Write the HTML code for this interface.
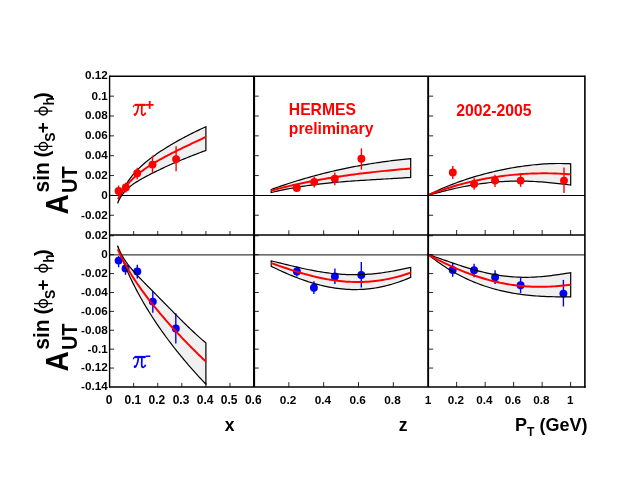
<!DOCTYPE html>
<html><head><meta charset="utf-8"><title>HERMES</title>
<style>
html,body{margin:0;padding:0;background:#fff;}
body{width:623px;height:481px;overflow:hidden;font-family:"Liberation Sans",sans-serif;}
svg{display:block;will-change:transform;}
text{font-family:"Liberation Sans",sans-serif;font-weight:bold;fill:#000;}
.tk{font-size:11.7px;}
.ser{font-family:"Liberation Serif",serif;font-weight:normal;}
</style></head><body>
<svg width="623" height="481" viewBox="0 0 623 481">
<rect x="0" y="0" width="623" height="481" fill="#fff"/>

<path d="M117.70,203.24 L118.82,199.90 L119.93,196.92 L121.05,194.21 L122.17,191.74 L123.28,189.46 L124.40,187.35 L125.52,185.38 L126.63,183.54 L127.75,181.80 L128.86,180.17 L129.98,178.61 L131.10,177.14 L132.21,175.73 L133.33,174.38 L134.45,173.09 L135.56,171.85 L136.68,170.65 L137.80,169.49 L138.91,168.38 L140.03,167.29 L141.15,166.24 L142.26,165.22 L143.38,164.23 L144.49,163.26 L145.61,162.32 L146.73,161.39 L147.84,160.49 L148.96,159.61 L150.08,158.74 L151.19,157.89 L152.31,157.06 L153.43,156.24 L154.54,155.44 L155.66,154.64 L156.78,153.86 L157.89,153.10 L159.01,152.34 L160.13,151.59 L161.24,150.86 L162.36,150.13 L163.47,149.41 L164.59,148.70 L165.71,148.00 L166.82,147.31 L167.94,146.63 L169.06,145.95 L170.17,145.28 L171.29,144.61 L172.41,143.96 L173.52,143.31 L174.64,142.66 L175.76,142.02 L176.87,141.39 L177.99,140.76 L179.11,140.14 L180.22,139.53 L181.34,138.92 L182.45,138.31 L183.57,137.71 L184.69,137.12 L185.80,136.53 L186.92,135.95 L188.04,135.37 L189.15,134.79 L190.27,134.22 L191.39,133.66 L192.50,133.10 L193.62,132.54 L194.74,131.99 L195.85,131.45 L196.97,130.90 L198.08,130.37 L199.20,129.84 L200.32,129.31 L201.43,128.78 L202.55,128.27 L203.67,127.75 L204.78,127.24 L205.90,126.74 L205.90,150.39 L204.78,150.82 L203.67,151.25 L202.55,151.68 L201.43,152.11 L200.32,152.54 L199.20,152.97 L198.08,153.40 L196.97,153.82 L195.85,154.25 L194.74,154.68 L193.62,155.11 L192.50,155.55 L191.39,155.98 L190.27,156.42 L189.15,156.86 L188.04,157.30 L186.92,157.74 L185.80,158.19 L184.69,158.64 L183.57,159.09 L182.45,159.54 L181.34,160.00 L180.22,160.46 L179.11,160.93 L177.99,161.40 L176.87,161.87 L175.76,162.35 L174.64,162.83 L173.52,163.31 L172.41,163.80 L171.29,164.29 L170.17,164.79 L169.06,165.29 L167.94,165.79 L166.82,166.30 L165.71,166.81 L164.59,167.33 L163.47,167.85 L162.36,168.37 L161.24,168.90 L160.13,169.43 L159.01,169.97 L157.89,170.51 L156.78,171.05 L155.66,171.60 L154.54,172.15 L153.43,172.70 L152.31,173.27 L151.19,173.83 L150.08,174.40 L148.96,174.98 L147.84,175.56 L146.73,176.15 L145.61,176.74 L144.49,177.35 L143.38,177.96 L142.26,178.58 L141.15,179.21 L140.03,179.85 L138.91,180.51 L137.80,181.18 L136.68,181.88 L135.56,182.59 L134.45,183.32 L133.33,184.08 L132.21,184.88 L131.10,185.71 L129.98,186.58 L128.86,187.50 L127.75,188.49 L126.63,189.54 L125.52,190.67 L124.40,191.91 L123.28,193.27 L122.17,194.77 L121.05,196.45 L119.93,198.35 L118.82,200.53 L117.70,203.06 Z" fill="#f0f0f0" stroke="none"/>
<path d="M271.20,189.54 L273.56,188.68 L275.93,187.83 L278.29,187.00 L280.66,186.18 L283.02,185.37 L285.39,184.58 L287.75,183.79 L290.12,183.02 L292.48,182.27 L294.84,181.52 L297.21,180.79 L299.57,180.07 L301.94,179.36 L304.30,178.66 L306.67,177.98 L309.03,177.31 L311.39,176.65 L313.76,176.00 L316.12,175.36 L318.49,174.74 L320.85,174.12 L323.22,173.52 L325.58,172.93 L327.95,172.35 L330.31,171.78 L332.67,171.23 L335.04,170.68 L337.40,170.14 L339.77,169.62 L342.13,169.11 L344.50,168.60 L346.86,168.11 L349.23,167.63 L351.59,167.16 L353.95,166.70 L356.32,166.25 L358.68,165.81 L361.05,165.38 L363.41,164.96 L365.78,164.55 L368.14,164.15 L370.51,163.76 L372.87,163.38 L375.23,163.01 L377.60,162.65 L379.96,162.30 L382.33,161.96 L384.69,161.63 L387.06,161.31 L389.42,160.99 L391.78,160.69 L394.15,160.39 L396.51,160.11 L398.88,159.83 L401.24,159.56 L403.61,159.30 L405.97,159.05 L408.34,158.81 L410.70,158.58 L410.70,177.40 L408.34,177.56 L405.97,177.72 L403.61,177.88 L401.24,178.03 L398.88,178.17 L396.51,178.32 L394.15,178.46 L391.78,178.60 L389.42,178.74 L387.06,178.88 L384.69,179.01 L382.33,179.15 L379.96,179.29 L377.60,179.42 L375.23,179.56 L372.87,179.70 L370.51,179.84 L368.14,179.98 L365.78,180.13 L363.41,180.28 L361.05,180.43 L358.68,180.58 L356.32,180.74 L353.95,180.90 L351.59,181.07 L349.23,181.25 L346.86,181.42 L344.50,181.61 L342.13,181.80 L339.77,182.00 L337.40,182.21 L335.04,182.42 L332.67,182.64 L330.31,182.87 L327.95,183.11 L325.58,183.36 L323.22,183.62 L320.85,183.89 L318.49,184.17 L316.12,184.46 L313.76,184.76 L311.39,185.07 L309.03,185.40 L306.67,185.73 L304.30,186.09 L301.94,186.45 L299.57,186.83 L297.21,187.22 L294.84,187.63 L292.48,188.05 L290.12,188.48 L287.75,188.94 L285.39,189.41 L283.02,189.89 L280.66,190.39 L278.29,190.91 L275.93,191.45 L273.56,192.01 L271.20,192.58 Z" fill="#f0f0f0" stroke="none"/>
<path d="M428.10,195.09 L430.52,193.88 L432.93,192.70 L435.35,191.56 L437.77,190.45 L440.18,189.36 L442.60,188.31 L445.02,187.28 L447.44,186.28 L449.85,185.31 L452.27,184.36 L454.69,183.44 L457.10,182.54 L459.52,181.67 L461.94,180.82 L464.35,179.99 L466.77,179.19 L469.19,178.41 L471.61,177.65 L474.02,176.91 L476.44,176.19 L478.86,175.50 L481.27,174.82 L483.69,174.16 L486.11,173.53 L488.52,172.91 L490.94,172.31 L493.36,171.73 L495.77,171.17 L498.19,170.62 L500.61,170.10 L503.03,169.60 L505.44,169.11 L507.86,168.64 L510.28,168.19 L512.69,167.76 L515.11,167.35 L517.53,166.96 L519.94,166.58 L522.36,166.23 L524.78,165.89 L527.19,165.58 L529.61,165.29 L532.03,165.01 L534.45,164.76 L536.86,164.53 L539.28,164.32 L541.70,164.13 L544.11,163.97 L546.53,163.83 L548.95,163.71 L551.36,163.61 L553.78,163.55 L556.20,163.50 L558.62,163.49 L561.03,163.50 L563.45,163.54 L565.87,163.61 L568.28,163.70 L570.70,163.83 L570.70,185.06 L568.28,184.75 L565.87,184.44 L563.45,184.14 L561.03,183.85 L558.62,183.57 L556.20,183.30 L553.78,183.05 L551.36,182.80 L548.95,182.57 L546.53,182.35 L544.11,182.15 L541.70,181.97 L539.28,181.80 L536.86,181.64 L534.45,181.51 L532.03,181.39 L529.61,181.29 L527.19,181.21 L524.78,181.15 L522.36,181.11 L519.94,181.08 L517.53,181.08 L515.11,181.10 L512.69,181.15 L510.28,181.21 L507.86,181.29 L505.44,181.40 L503.03,181.53 L500.61,181.68 L498.19,181.85 L495.77,182.04 L493.36,182.26 L490.94,182.50 L488.52,182.75 L486.11,183.04 L483.69,183.34 L481.27,183.66 L478.86,184.01 L476.44,184.37 L474.02,184.76 L471.61,185.16 L469.19,185.59 L466.77,186.04 L464.35,186.50 L461.94,186.98 L459.52,187.48 L457.10,188.00 L454.69,188.53 L452.27,189.09 L449.85,189.65 L447.44,190.23 L445.02,190.83 L442.60,191.44 L440.18,192.06 L437.77,192.69 L435.35,193.33 L432.93,193.98 L430.52,194.64 L428.10,195.31 Z" fill="#f0f0f0" stroke="none"/>
<path d="M117.70,245.74 L118.82,248.68 L119.93,251.27 L121.05,253.59 L122.17,255.70 L123.28,257.64 L124.40,259.44 L125.52,261.13 L126.63,262.72 L127.75,264.24 L128.86,265.69 L129.98,267.08 L131.10,268.43 L132.21,269.74 L133.33,271.01 L134.45,272.26 L135.56,273.49 L136.68,274.70 L137.80,275.89 L138.91,277.07 L140.03,278.24 L141.15,279.40 L142.26,280.55 L143.38,281.70 L144.49,282.84 L145.61,283.98 L146.73,285.11 L147.84,286.25 L148.96,287.38 L150.08,288.52 L151.19,289.65 L152.31,290.78 L153.43,291.91 L154.54,293.04 L155.66,294.18 L156.78,295.31 L157.89,296.45 L159.01,297.58 L160.13,298.72 L161.24,299.85 L162.36,300.99 L163.47,302.13 L164.59,303.26 L165.71,304.40 L166.82,305.53 L167.94,306.67 L169.06,307.80 L170.17,308.94 L171.29,310.07 L172.41,311.20 L173.52,312.33 L174.64,313.46 L175.76,314.58 L176.87,315.70 L177.99,316.82 L179.11,317.94 L180.22,319.05 L181.34,320.16 L182.45,321.26 L183.57,322.36 L184.69,323.46 L185.80,324.55 L186.92,325.63 L188.04,326.71 L189.15,327.78 L190.27,328.85 L191.39,329.91 L192.50,330.96 L193.62,332.01 L194.74,333.05 L195.85,334.08 L196.97,335.10 L198.08,336.11 L199.20,337.12 L200.32,338.11 L201.43,339.10 L202.55,340.08 L203.67,341.04 L204.78,342.00 L205.90,342.95 L205.90,384.20 L204.78,383.03 L203.67,381.84 L202.55,380.66 L201.43,379.46 L200.32,378.26 L199.20,377.05 L198.08,375.83 L196.97,374.61 L195.85,373.38 L194.74,372.14 L193.62,370.89 L192.50,369.63 L191.39,368.37 L190.27,367.09 L189.15,365.81 L188.04,364.52 L186.92,363.22 L185.80,361.91 L184.69,360.59 L183.57,359.26 L182.45,357.92 L181.34,356.57 L180.22,355.21 L179.11,353.84 L177.99,352.46 L176.87,351.07 L175.76,349.67 L174.64,348.25 L173.52,346.83 L172.41,345.39 L171.29,343.94 L170.17,342.47 L169.06,341.00 L167.94,339.51 L166.82,338.00 L165.71,336.48 L164.59,334.95 L163.47,333.40 L162.36,331.84 L161.24,330.26 L160.13,328.67 L159.01,327.06 L157.89,325.43 L156.78,323.79 L155.66,322.12 L154.54,320.44 L153.43,318.74 L152.31,317.02 L151.19,315.28 L150.08,313.51 L148.96,311.73 L147.84,309.92 L146.73,308.09 L145.61,306.23 L144.49,304.35 L143.38,302.44 L142.26,300.51 L141.15,298.54 L140.03,296.55 L138.91,294.52 L137.80,292.46 L136.68,290.37 L135.56,288.24 L134.45,286.07 L133.33,283.86 L132.21,281.61 L131.10,279.31 L129.98,276.96 L128.86,274.56 L127.75,272.10 L126.63,269.59 L125.52,267.00 L124.40,264.35 L123.28,261.61 L122.17,258.78 L121.05,255.86 L119.93,252.82 L118.82,249.66 L117.70,246.34 Z" fill="#f0f0f0" stroke="none"/>
<path d="M271.20,260.94 L273.56,261.49 L275.93,262.04 L278.29,262.61 L280.66,263.18 L283.02,263.75 L285.39,264.32 L287.75,264.90 L290.12,265.47 L292.48,266.03 L294.84,266.59 L297.21,267.15 L299.57,267.69 L301.94,268.22 L304.30,268.74 L306.67,269.24 L309.03,269.73 L311.39,270.20 L313.76,270.66 L316.12,271.09 L318.49,271.50 L320.85,271.90 L323.22,272.27 L325.58,272.61 L327.95,272.93 L330.31,273.23 L332.67,273.50 L335.04,273.75 L337.40,273.97 L339.77,274.16 L342.13,274.32 L344.50,274.45 L346.86,274.56 L349.23,274.64 L351.59,274.68 L353.95,274.70 L356.32,274.69 L358.68,274.65 L361.05,274.59 L363.41,274.49 L365.78,274.36 L368.14,274.21 L370.51,274.03 L372.87,273.82 L375.23,273.58 L377.60,273.32 L379.96,273.03 L382.33,272.72 L384.69,272.38 L387.06,272.02 L389.42,271.64 L391.78,271.24 L394.15,270.81 L396.51,270.37 L398.88,269.91 L401.24,269.43 L403.61,268.94 L405.97,268.43 L408.34,267.91 L410.70,267.38 L410.70,277.35 L408.34,278.37 L405.97,279.34 L403.61,280.27 L401.24,281.16 L398.88,282.00 L396.51,282.80 L394.15,283.55 L391.78,284.26 L389.42,284.92 L387.06,285.54 L384.69,286.12 L382.33,286.65 L379.96,287.14 L377.60,287.58 L375.23,287.98 L372.87,288.33 L370.51,288.64 L368.14,288.90 L365.78,289.12 L363.41,289.30 L361.05,289.43 L358.68,289.52 L356.32,289.57 L353.95,289.57 L351.59,289.53 L349.23,289.45 L346.86,289.32 L344.50,289.16 L342.13,288.95 L339.77,288.70 L337.40,288.41 L335.04,288.08 L332.67,287.71 L330.31,287.30 L327.95,286.85 L325.58,286.37 L323.22,285.84 L320.85,285.28 L318.49,284.69 L316.12,284.06 L313.76,283.39 L311.39,282.69 L309.03,281.95 L306.67,281.18 L304.30,280.38 L301.94,279.55 L299.57,278.69 L297.21,277.79 L294.84,276.87 L292.48,275.92 L290.12,274.95 L287.75,273.94 L285.39,272.91 L283.02,271.86 L280.66,270.79 L278.29,269.69 L275.93,268.57 L273.56,267.43 L271.20,266.27 Z" fill="#f0f0f0" stroke="none"/>
<path d="M428.10,254.60 L430.52,255.38 L432.93,256.17 L435.35,256.98 L437.77,257.80 L440.18,258.63 L442.60,259.47 L445.02,260.31 L447.44,261.15 L449.85,261.99 L452.27,262.82 L454.69,263.65 L457.10,264.47 L459.52,265.28 L461.94,266.07 L464.35,266.85 L466.77,267.61 L469.19,268.35 L471.61,269.07 L474.02,269.76 L476.44,270.44 L478.86,271.08 L481.27,271.70 L483.69,272.29 L486.11,272.85 L488.52,273.38 L490.94,273.88 L493.36,274.35 L495.77,274.78 L498.19,275.18 L500.61,275.55 L503.03,275.88 L505.44,276.18 L507.86,276.44 L510.28,276.67 L512.69,276.86 L515.11,277.01 L517.53,277.14 L519.94,277.22 L522.36,277.28 L524.78,277.29 L527.19,277.28 L529.61,277.23 L532.03,277.16 L534.45,277.05 L536.86,276.91 L539.28,276.74 L541.70,276.55 L544.11,276.33 L546.53,276.08 L548.95,275.82 L551.36,275.53 L553.78,275.22 L556.20,274.89 L558.62,274.55 L561.03,274.20 L563.45,273.83 L565.87,273.45 L568.28,273.07 L570.70,272.68 L570.70,296.81 L568.28,296.84 L565.87,296.86 L563.45,296.86 L561.03,296.86 L558.62,296.84 L556.20,296.81 L553.78,296.76 L551.36,296.70 L548.95,296.63 L546.53,296.53 L544.11,296.42 L541.70,296.30 L539.28,296.15 L536.86,295.98 L534.45,295.80 L532.03,295.59 L529.61,295.36 L527.19,295.11 L524.78,294.83 L522.36,294.53 L519.94,294.21 L517.53,293.85 L515.11,293.47 L512.69,293.07 L510.28,292.63 L507.86,292.17 L505.44,291.67 L503.03,291.15 L500.61,290.59 L498.19,290.00 L495.77,289.37 L493.36,288.71 L490.94,288.02 L488.52,287.29 L486.11,286.52 L483.69,285.71 L481.27,284.86 L478.86,283.98 L476.44,283.05 L474.02,282.08 L471.61,281.07 L469.19,280.01 L466.77,278.91 L464.35,277.77 L461.94,276.58 L459.52,275.34 L457.10,274.05 L454.69,272.71 L452.27,271.33 L449.85,269.89 L447.44,268.40 L445.02,266.86 L442.60,265.26 L440.18,263.61 L437.77,261.90 L435.35,260.13 L432.93,258.31 L430.52,256.43 L428.10,254.49 Z" fill="#f0f0f0" stroke="none"/>
<line x1="109.6" y1="195.45" x2="584.9" y2="195.45" stroke="#000" stroke-width="1.05"/>
<line x1="109.6" y1="254.9" x2="584.9" y2="254.9" stroke="#000" stroke-width="0.95"/>
<path d="M117.70,203.24 L118.82,199.90 L119.93,196.92 L121.05,194.21 L122.17,191.74 L123.28,189.46 L124.40,187.35 L125.52,185.38 L126.63,183.54 L127.75,181.80 L128.86,180.17 L129.98,178.61 L131.10,177.14 L132.21,175.73 L133.33,174.38 L134.45,173.09 L135.56,171.85 L136.68,170.65 L137.80,169.49 L138.91,168.38 L140.03,167.29 L141.15,166.24 L142.26,165.22 L143.38,164.23 L144.49,163.26 L145.61,162.32 L146.73,161.39 L147.84,160.49 L148.96,159.61 L150.08,158.74 L151.19,157.89 L152.31,157.06 L153.43,156.24 L154.54,155.44 L155.66,154.64 L156.78,153.86 L157.89,153.10 L159.01,152.34 L160.13,151.59 L161.24,150.86 L162.36,150.13 L163.47,149.41 L164.59,148.70 L165.71,148.00 L166.82,147.31 L167.94,146.63 L169.06,145.95 L170.17,145.28 L171.29,144.61 L172.41,143.96 L173.52,143.31 L174.64,142.66 L175.76,142.02 L176.87,141.39 L177.99,140.76 L179.11,140.14 L180.22,139.53 L181.34,138.92 L182.45,138.31 L183.57,137.71 L184.69,137.12 L185.80,136.53 L186.92,135.95 L188.04,135.37 L189.15,134.79 L190.27,134.22 L191.39,133.66 L192.50,133.10 L193.62,132.54 L194.74,131.99 L195.85,131.45 L196.97,130.90 L198.08,130.37 L199.20,129.84 L200.32,129.31 L201.43,128.78 L202.55,128.27 L203.67,127.75 L204.78,127.24 L205.90,126.74 L205.90,150.39 L204.78,150.82 L203.67,151.25 L202.55,151.68 L201.43,152.11 L200.32,152.54 L199.20,152.97 L198.08,153.40 L196.97,153.82 L195.85,154.25 L194.74,154.68 L193.62,155.11 L192.50,155.55 L191.39,155.98 L190.27,156.42 L189.15,156.86 L188.04,157.30 L186.92,157.74 L185.80,158.19 L184.69,158.64 L183.57,159.09 L182.45,159.54 L181.34,160.00 L180.22,160.46 L179.11,160.93 L177.99,161.40 L176.87,161.87 L175.76,162.35 L174.64,162.83 L173.52,163.31 L172.41,163.80 L171.29,164.29 L170.17,164.79 L169.06,165.29 L167.94,165.79 L166.82,166.30 L165.71,166.81 L164.59,167.33 L163.47,167.85 L162.36,168.37 L161.24,168.90 L160.13,169.43 L159.01,169.97 L157.89,170.51 L156.78,171.05 L155.66,171.60 L154.54,172.15 L153.43,172.70 L152.31,173.27 L151.19,173.83 L150.08,174.40 L148.96,174.98 L147.84,175.56 L146.73,176.15 L145.61,176.74 L144.49,177.35 L143.38,177.96 L142.26,178.58 L141.15,179.21 L140.03,179.85 L138.91,180.51 L137.80,181.18 L136.68,181.88 L135.56,182.59 L134.45,183.32 L133.33,184.08 L132.21,184.88 L131.10,185.71 L129.98,186.58 L128.86,187.50 L127.75,188.49 L126.63,189.54 L125.52,190.67 L124.40,191.91 L123.28,193.27 L122.17,194.77 L121.05,196.45 L119.93,198.35 L118.82,200.53 L117.70,203.06 Z" fill="none" stroke="#000" stroke-width="1.2" stroke-linejoin="miter"/>
<path d="M118.00,199.27 L119.11,197.01 L120.23,194.94 L121.34,193.03 L122.45,191.25 L123.56,189.59 L124.68,188.04 L125.79,186.57 L126.90,185.18 L128.01,183.85 L129.13,182.59 L130.24,181.39 L131.35,180.23 L132.46,179.13 L133.58,178.06 L134.69,177.03 L135.80,176.04 L136.92,175.07 L138.03,174.14 L139.14,173.24 L140.25,172.36 L141.37,171.50 L142.48,170.67 L143.59,169.86 L144.70,169.06 L145.82,168.29 L146.93,167.53 L148.04,166.78 L149.15,166.06 L150.27,165.34 L151.38,164.64 L152.49,163.95 L153.61,163.27 L154.72,162.60 L155.83,161.94 L156.94,161.29 L158.06,160.65 L159.17,160.02 L160.28,159.39 L161.39,158.78 L162.51,158.17 L163.62,157.56 L164.73,156.97 L165.84,156.37 L166.96,155.79 L168.07,155.21 L169.18,154.63 L170.29,154.06 L171.41,153.49 L172.52,152.93 L173.63,152.37 L174.75,151.81 L175.86,151.26 L176.97,150.71 L178.08,150.16 L179.20,149.61 L180.31,149.07 L181.42,148.53 L182.53,147.99 L183.65,147.46 L184.76,146.92 L185.87,146.39 L186.98,145.86 L188.10,145.33 L189.21,144.80 L190.32,144.27 L191.44,143.74 L192.55,143.22 L193.66,142.69 L194.77,142.17 L195.89,141.64 L197.00,141.12 L198.11,140.59 L199.22,140.07 L200.34,139.54 L201.45,139.02 L202.56,138.50 L203.67,137.97 L204.79,137.45 L205.90,136.92" fill="none" stroke="#f00" stroke-width="1.95"/>
<line x1="118.6" y1="185.5" x2="118.6" y2="195.5" stroke="#f00" stroke-width="1.4"/>
<circle cx="118.6" cy="190.9" r="3.95" fill="#f00"/>
<line x1="125.8" y1="182.7" x2="125.8" y2="192.4" stroke="#f00" stroke-width="1.4"/>
<circle cx="125.8" cy="187.4" r="3.95" fill="#f00"/>
<line x1="137.2" y1="167.8" x2="137.2" y2="179.3" stroke="#f00" stroke-width="1.4"/>
<circle cx="137.2" cy="173.3" r="3.95" fill="#f00"/>
<line x1="152.5" y1="155.6" x2="152.5" y2="173.1" stroke="#f00" stroke-width="1.4"/>
<circle cx="152.5" cy="164.6" r="3.95" fill="#f00"/>
<line x1="176.1" y1="146.2" x2="176.1" y2="171.2" stroke="#f00" stroke-width="1.4"/>
<circle cx="176.1" cy="159.1" r="3.95" fill="#f00"/>
<path d="M271.20,189.54 L273.56,188.68 L275.93,187.83 L278.29,187.00 L280.66,186.18 L283.02,185.37 L285.39,184.58 L287.75,183.79 L290.12,183.02 L292.48,182.27 L294.84,181.52 L297.21,180.79 L299.57,180.07 L301.94,179.36 L304.30,178.66 L306.67,177.98 L309.03,177.31 L311.39,176.65 L313.76,176.00 L316.12,175.36 L318.49,174.74 L320.85,174.12 L323.22,173.52 L325.58,172.93 L327.95,172.35 L330.31,171.78 L332.67,171.23 L335.04,170.68 L337.40,170.14 L339.77,169.62 L342.13,169.11 L344.50,168.60 L346.86,168.11 L349.23,167.63 L351.59,167.16 L353.95,166.70 L356.32,166.25 L358.68,165.81 L361.05,165.38 L363.41,164.96 L365.78,164.55 L368.14,164.15 L370.51,163.76 L372.87,163.38 L375.23,163.01 L377.60,162.65 L379.96,162.30 L382.33,161.96 L384.69,161.63 L387.06,161.31 L389.42,160.99 L391.78,160.69 L394.15,160.39 L396.51,160.11 L398.88,159.83 L401.24,159.56 L403.61,159.30 L405.97,159.05 L408.34,158.81 L410.70,158.58 L410.70,177.40 L408.34,177.56 L405.97,177.72 L403.61,177.88 L401.24,178.03 L398.88,178.17 L396.51,178.32 L394.15,178.46 L391.78,178.60 L389.42,178.74 L387.06,178.88 L384.69,179.01 L382.33,179.15 L379.96,179.29 L377.60,179.42 L375.23,179.56 L372.87,179.70 L370.51,179.84 L368.14,179.98 L365.78,180.13 L363.41,180.28 L361.05,180.43 L358.68,180.58 L356.32,180.74 L353.95,180.90 L351.59,181.07 L349.23,181.25 L346.86,181.42 L344.50,181.61 L342.13,181.80 L339.77,182.00 L337.40,182.21 L335.04,182.42 L332.67,182.64 L330.31,182.87 L327.95,183.11 L325.58,183.36 L323.22,183.62 L320.85,183.89 L318.49,184.17 L316.12,184.46 L313.76,184.76 L311.39,185.07 L309.03,185.40 L306.67,185.73 L304.30,186.09 L301.94,186.45 L299.57,186.83 L297.21,187.22 L294.84,187.63 L292.48,188.05 L290.12,188.48 L287.75,188.94 L285.39,189.41 L283.02,189.89 L280.66,190.39 L278.29,190.91 L275.93,191.45 L273.56,192.01 L271.20,192.58 Z" fill="none" stroke="#000" stroke-width="1.2" stroke-linejoin="miter"/>
<path d="M271.20,190.65 L273.56,190.01 L275.93,189.38 L278.29,188.76 L280.66,188.16 L283.02,187.56 L285.39,186.98 L287.75,186.41 L290.12,185.85 L292.48,185.30 L294.84,184.76 L297.21,184.24 L299.57,183.72 L301.94,183.22 L304.30,182.72 L306.67,182.24 L309.03,181.76 L311.39,181.30 L313.76,180.85 L316.12,180.40 L318.49,179.96 L320.85,179.54 L323.22,179.12 L325.58,178.71 L327.95,178.31 L330.31,177.92 L332.67,177.54 L335.04,177.16 L337.40,176.80 L339.77,176.44 L342.13,176.09 L344.50,175.74 L346.86,175.41 L349.23,175.08 L351.59,174.76 L353.95,174.44 L356.32,174.13 L358.68,173.83 L361.05,173.53 L363.41,173.25 L365.78,172.96 L368.14,172.68 L370.51,172.41 L372.87,172.15 L375.23,171.89 L377.60,171.63 L379.96,171.38 L382.33,171.13 L384.69,170.89 L387.06,170.66 L389.42,170.43 L391.78,170.20 L394.15,169.97 L396.51,169.75 L398.88,169.54 L401.24,169.32 L403.61,169.12 L405.97,168.91 L408.34,168.71 L410.70,168.51" fill="none" stroke="#f00" stroke-width="1.95"/>
<line x1="296.8" y1="186" x2="296.8" y2="190" stroke="#f00" stroke-width="1.4"/>
<circle cx="296.8" cy="188.0" r="3.95" fill="#f00"/>
<line x1="314.2" y1="176.6" x2="314.2" y2="187.5" stroke="#f00" stroke-width="1.4"/>
<circle cx="314.2" cy="181.9" r="3.95" fill="#f00"/>
<line x1="334.8" y1="172.4" x2="334.8" y2="185.3" stroke="#f00" stroke-width="1.4"/>
<circle cx="334.8" cy="178.7" r="3.95" fill="#f00"/>
<line x1="361.4" y1="148.4" x2="361.4" y2="169.6" stroke="#f00" stroke-width="1.4"/>
<circle cx="361.4" cy="158.8" r="3.95" fill="#f00"/>
<path d="M428.10,195.09 L430.52,193.88 L432.93,192.70 L435.35,191.56 L437.77,190.45 L440.18,189.36 L442.60,188.31 L445.02,187.28 L447.44,186.28 L449.85,185.31 L452.27,184.36 L454.69,183.44 L457.10,182.54 L459.52,181.67 L461.94,180.82 L464.35,179.99 L466.77,179.19 L469.19,178.41 L471.61,177.65 L474.02,176.91 L476.44,176.19 L478.86,175.50 L481.27,174.82 L483.69,174.16 L486.11,173.53 L488.52,172.91 L490.94,172.31 L493.36,171.73 L495.77,171.17 L498.19,170.62 L500.61,170.10 L503.03,169.60 L505.44,169.11 L507.86,168.64 L510.28,168.19 L512.69,167.76 L515.11,167.35 L517.53,166.96 L519.94,166.58 L522.36,166.23 L524.78,165.89 L527.19,165.58 L529.61,165.29 L532.03,165.01 L534.45,164.76 L536.86,164.53 L539.28,164.32 L541.70,164.13 L544.11,163.97 L546.53,163.83 L548.95,163.71 L551.36,163.61 L553.78,163.55 L556.20,163.50 L558.62,163.49 L561.03,163.50 L563.45,163.54 L565.87,163.61 L568.28,163.70 L570.70,163.83 L570.70,185.06 L568.28,184.75 L565.87,184.44 L563.45,184.14 L561.03,183.85 L558.62,183.57 L556.20,183.30 L553.78,183.05 L551.36,182.80 L548.95,182.57 L546.53,182.35 L544.11,182.15 L541.70,181.97 L539.28,181.80 L536.86,181.64 L534.45,181.51 L532.03,181.39 L529.61,181.29 L527.19,181.21 L524.78,181.15 L522.36,181.11 L519.94,181.08 L517.53,181.08 L515.11,181.10 L512.69,181.15 L510.28,181.21 L507.86,181.29 L505.44,181.40 L503.03,181.53 L500.61,181.68 L498.19,181.85 L495.77,182.04 L493.36,182.26 L490.94,182.50 L488.52,182.75 L486.11,183.04 L483.69,183.34 L481.27,183.66 L478.86,184.01 L476.44,184.37 L474.02,184.76 L471.61,185.16 L469.19,185.59 L466.77,186.04 L464.35,186.50 L461.94,186.98 L459.52,187.48 L457.10,188.00 L454.69,188.53 L452.27,189.09 L449.85,189.65 L447.44,190.23 L445.02,190.83 L442.60,191.44 L440.18,192.06 L437.77,192.69 L435.35,193.33 L432.93,193.98 L430.52,194.64 L428.10,195.31 Z" fill="none" stroke="#000" stroke-width="1.2" stroke-linejoin="miter"/>
<path d="M428.10,195.11 L430.52,194.16 L432.93,193.25 L435.35,192.35 L437.77,191.48 L440.18,190.63 L442.60,189.80 L445.02,189.00 L447.44,188.22 L449.85,187.46 L452.27,186.72 L454.69,186.00 L457.10,185.31 L459.52,184.63 L461.94,183.98 L464.35,183.35 L466.77,182.74 L469.19,182.15 L471.61,181.58 L474.02,181.02 L476.44,180.49 L478.86,179.98 L481.27,179.49 L483.69,179.02 L486.11,178.57 L488.52,178.14 L490.94,177.73 L493.36,177.33 L495.77,176.96 L498.19,176.60 L500.61,176.26 L503.03,175.94 L505.44,175.64 L507.86,175.36 L510.28,175.10 L512.69,174.86 L515.11,174.63 L517.53,174.42 L519.94,174.23 L522.36,174.06 L524.78,173.90 L527.19,173.77 L529.61,173.65 L532.03,173.55 L534.45,173.47 L536.86,173.41 L539.28,173.36 L541.70,173.33 L544.11,173.32 L546.53,173.33 L548.95,173.36 L551.36,173.40 L553.78,173.46 L556.20,173.54 L558.62,173.64 L561.03,173.76 L563.45,173.89 L565.87,174.04 L568.28,174.21 L570.70,174.40" fill="none" stroke="#f00" stroke-width="1.95"/>
<line x1="452.8" y1="166.1" x2="452.8" y2="179.0" stroke="#f00" stroke-width="1.4"/>
<circle cx="452.8" cy="172.5" r="3.95" fill="#f00"/>
<line x1="474.1" y1="178.1" x2="474.1" y2="189.7" stroke="#f00" stroke-width="1.4"/>
<circle cx="474.1" cy="183.9" r="3.95" fill="#f00"/>
<line x1="495.0" y1="174.8" x2="495.0" y2="186.9" stroke="#f00" stroke-width="1.4"/>
<circle cx="495.0" cy="180.6" r="3.95" fill="#f00"/>
<line x1="520.6" y1="173.5" x2="520.6" y2="186.8" stroke="#f00" stroke-width="1.4"/>
<circle cx="520.6" cy="180.6" r="3.95" fill="#f00"/>
<line x1="564.0" y1="167.4" x2="564.0" y2="193.0" stroke="#f00" stroke-width="1.4"/>
<circle cx="564.0" cy="180.6" r="3.95" fill="#f00"/>
<line x1="118.6" y1="256.0" x2="118.6" y2="267.3" stroke="#00f" stroke-width="1.4"/>
<circle cx="118.6" cy="260.6" r="3.95" fill="#00f"/>
<line x1="125.5" y1="263.0" x2="125.5" y2="274.8" stroke="#00f" stroke-width="1.4"/>
<circle cx="125.5" cy="268.4" r="3.95" fill="#00f"/>
<line x1="137.3" y1="264.8" x2="137.3" y2="278.5" stroke="#00f" stroke-width="1.4"/>
<circle cx="137.3" cy="271.5" r="3.95" fill="#00f"/>
<line x1="152.8" y1="291.3" x2="152.8" y2="312.8" stroke="#00f" stroke-width="1.4"/>
<circle cx="152.8" cy="301.6" r="3.95" fill="#00f"/>
<line x1="175.8" y1="313.2" x2="175.8" y2="343.6" stroke="#00f" stroke-width="1.4"/>
<circle cx="175.8" cy="328.5" r="3.95" fill="#00f"/>
<path d="M117.70,245.74 L118.82,248.68 L119.93,251.27 L121.05,253.59 L122.17,255.70 L123.28,257.64 L124.40,259.44 L125.52,261.13 L126.63,262.72 L127.75,264.24 L128.86,265.69 L129.98,267.08 L131.10,268.43 L132.21,269.74 L133.33,271.01 L134.45,272.26 L135.56,273.49 L136.68,274.70 L137.80,275.89 L138.91,277.07 L140.03,278.24 L141.15,279.40 L142.26,280.55 L143.38,281.70 L144.49,282.84 L145.61,283.98 L146.73,285.11 L147.84,286.25 L148.96,287.38 L150.08,288.52 L151.19,289.65 L152.31,290.78 L153.43,291.91 L154.54,293.04 L155.66,294.18 L156.78,295.31 L157.89,296.45 L159.01,297.58 L160.13,298.72 L161.24,299.85 L162.36,300.99 L163.47,302.13 L164.59,303.26 L165.71,304.40 L166.82,305.53 L167.94,306.67 L169.06,307.80 L170.17,308.94 L171.29,310.07 L172.41,311.20 L173.52,312.33 L174.64,313.46 L175.76,314.58 L176.87,315.70 L177.99,316.82 L179.11,317.94 L180.22,319.05 L181.34,320.16 L182.45,321.26 L183.57,322.36 L184.69,323.46 L185.80,324.55 L186.92,325.63 L188.04,326.71 L189.15,327.78 L190.27,328.85 L191.39,329.91 L192.50,330.96 L193.62,332.01 L194.74,333.05 L195.85,334.08 L196.97,335.10 L198.08,336.11 L199.20,337.12 L200.32,338.11 L201.43,339.10 L202.55,340.08 L203.67,341.04 L204.78,342.00 L205.90,342.95 L205.90,384.20 L204.78,383.03 L203.67,381.84 L202.55,380.66 L201.43,379.46 L200.32,378.26 L199.20,377.05 L198.08,375.83 L196.97,374.61 L195.85,373.38 L194.74,372.14 L193.62,370.89 L192.50,369.63 L191.39,368.37 L190.27,367.09 L189.15,365.81 L188.04,364.52 L186.92,363.22 L185.80,361.91 L184.69,360.59 L183.57,359.26 L182.45,357.92 L181.34,356.57 L180.22,355.21 L179.11,353.84 L177.99,352.46 L176.87,351.07 L175.76,349.67 L174.64,348.25 L173.52,346.83 L172.41,345.39 L171.29,343.94 L170.17,342.47 L169.06,341.00 L167.94,339.51 L166.82,338.00 L165.71,336.48 L164.59,334.95 L163.47,333.40 L162.36,331.84 L161.24,330.26 L160.13,328.67 L159.01,327.06 L157.89,325.43 L156.78,323.79 L155.66,322.12 L154.54,320.44 L153.43,318.74 L152.31,317.02 L151.19,315.28 L150.08,313.51 L148.96,311.73 L147.84,309.92 L146.73,308.09 L145.61,306.23 L144.49,304.35 L143.38,302.44 L142.26,300.51 L141.15,298.54 L140.03,296.55 L138.91,294.52 L137.80,292.46 L136.68,290.37 L135.56,288.24 L134.45,286.07 L133.33,283.86 L132.21,281.61 L131.10,279.31 L129.98,276.96 L128.86,274.56 L127.75,272.10 L126.63,269.59 L125.52,267.00 L124.40,264.35 L123.28,261.61 L122.17,258.78 L121.05,255.86 L119.93,252.82 L118.82,249.66 L117.70,246.34 Z" fill="none" stroke="#000" stroke-width="1.2" stroke-linejoin="miter"/>
<path d="M117.80,249.25 L118.92,251.78 L120.03,254.20 L121.15,256.51 L122.26,258.73 L123.38,260.88 L124.49,262.96 L125.61,264.99 L126.72,266.96 L127.84,268.88 L128.95,270.76 L130.07,272.60 L131.18,274.40 L132.30,276.17 L133.41,277.90 L134.53,279.61 L135.64,281.29 L136.76,282.94 L137.87,284.57 L138.99,286.18 L140.10,287.77 L141.22,289.33 L142.33,290.88 L143.45,292.40 L144.56,293.91 L145.68,295.40 L146.79,296.88 L147.91,298.34 L149.03,299.79 L150.14,301.22 L151.26,302.64 L152.37,304.04 L153.49,305.43 L154.60,306.81 L155.72,308.18 L156.83,309.54 L157.95,310.89 L159.06,312.22 L160.18,313.55 L161.29,314.86 L162.41,316.17 L163.52,317.47 L164.64,318.76 L165.75,320.03 L166.87,321.30 L167.98,322.57 L169.10,323.82 L170.21,325.07 L171.33,326.30 L172.44,327.53 L173.56,328.76 L174.67,329.97 L175.79,331.18 L176.91,332.38 L178.02,333.58 L179.14,334.77 L180.25,335.95 L181.37,337.13 L182.48,338.30 L183.60,339.46 L184.71,340.62 L185.83,341.77 L186.94,342.92 L188.06,344.06 L189.17,345.19 L190.29,346.32 L191.40,347.45 L192.52,348.57 L193.63,349.68 L194.75,350.79 L195.86,351.90 L196.98,353.00 L198.09,354.09 L199.21,355.19 L200.32,356.27 L201.44,357.35 L202.55,358.43 L203.67,359.50 L204.78,360.57 L205.90,361.64" fill="none" stroke="#f00" stroke-width="1.95"/>
<line x1="296.9" y1="266.6" x2="296.9" y2="276.4" stroke="#00f" stroke-width="1.4"/>
<circle cx="296.9" cy="271.5" r="3.95" fill="#00f"/>
<line x1="313.9" y1="281.2" x2="313.9" y2="293.9" stroke="#00f" stroke-width="1.4"/>
<circle cx="313.9" cy="287.7" r="3.95" fill="#00f"/>
<line x1="334.9" y1="268.6" x2="334.9" y2="284.1" stroke="#00f" stroke-width="1.4"/>
<circle cx="334.9" cy="276.4" r="3.95" fill="#00f"/>
<line x1="361.3" y1="262.1" x2="361.3" y2="287.4" stroke="#00f" stroke-width="1.4"/>
<circle cx="361.3" cy="275.0" r="3.95" fill="#00f"/>
<path d="M271.20,260.94 L273.56,261.49 L275.93,262.04 L278.29,262.61 L280.66,263.18 L283.02,263.75 L285.39,264.32 L287.75,264.90 L290.12,265.47 L292.48,266.03 L294.84,266.59 L297.21,267.15 L299.57,267.69 L301.94,268.22 L304.30,268.74 L306.67,269.24 L309.03,269.73 L311.39,270.20 L313.76,270.66 L316.12,271.09 L318.49,271.50 L320.85,271.90 L323.22,272.27 L325.58,272.61 L327.95,272.93 L330.31,273.23 L332.67,273.50 L335.04,273.75 L337.40,273.97 L339.77,274.16 L342.13,274.32 L344.50,274.45 L346.86,274.56 L349.23,274.64 L351.59,274.68 L353.95,274.70 L356.32,274.69 L358.68,274.65 L361.05,274.59 L363.41,274.49 L365.78,274.36 L368.14,274.21 L370.51,274.03 L372.87,273.82 L375.23,273.58 L377.60,273.32 L379.96,273.03 L382.33,272.72 L384.69,272.38 L387.06,272.02 L389.42,271.64 L391.78,271.24 L394.15,270.81 L396.51,270.37 L398.88,269.91 L401.24,269.43 L403.61,268.94 L405.97,268.43 L408.34,267.91 L410.70,267.38 L410.70,277.35 L408.34,278.37 L405.97,279.34 L403.61,280.27 L401.24,281.16 L398.88,282.00 L396.51,282.80 L394.15,283.55 L391.78,284.26 L389.42,284.92 L387.06,285.54 L384.69,286.12 L382.33,286.65 L379.96,287.14 L377.60,287.58 L375.23,287.98 L372.87,288.33 L370.51,288.64 L368.14,288.90 L365.78,289.12 L363.41,289.30 L361.05,289.43 L358.68,289.52 L356.32,289.57 L353.95,289.57 L351.59,289.53 L349.23,289.45 L346.86,289.32 L344.50,289.16 L342.13,288.95 L339.77,288.70 L337.40,288.41 L335.04,288.08 L332.67,287.71 L330.31,287.30 L327.95,286.85 L325.58,286.37 L323.22,285.84 L320.85,285.28 L318.49,284.69 L316.12,284.06 L313.76,283.39 L311.39,282.69 L309.03,281.95 L306.67,281.18 L304.30,280.38 L301.94,279.55 L299.57,278.69 L297.21,277.79 L294.84,276.87 L292.48,275.92 L290.12,274.95 L287.75,273.94 L285.39,272.91 L283.02,271.86 L280.66,270.79 L278.29,269.69 L275.93,268.57 L273.56,267.43 L271.20,266.27 Z" fill="none" stroke="#000" stroke-width="1.2" stroke-linejoin="miter"/>
<path d="M271.20,263.09 L273.56,263.92 L275.93,264.75 L278.29,265.58 L280.66,266.40 L283.02,267.21 L285.39,268.01 L287.75,268.79 L290.12,269.57 L292.48,270.33 L294.84,271.08 L297.21,271.81 L299.57,272.52 L301.94,273.21 L304.30,273.89 L306.67,274.54 L309.03,275.17 L311.39,275.78 L313.76,276.37 L316.12,276.93 L318.49,277.47 L320.85,277.98 L323.22,278.46 L325.58,278.92 L327.95,279.35 L330.31,279.74 L332.67,280.11 L335.04,280.45 L337.40,280.76 L339.77,281.03 L342.13,281.27 L344.50,281.48 L346.86,281.66 L349.23,281.80 L351.59,281.90 L353.95,281.98 L356.32,282.01 L358.68,282.01 L361.05,281.98 L363.41,281.91 L365.78,281.80 L368.14,281.66 L370.51,281.47 L372.87,281.25 L375.23,281.00 L377.60,280.71 L379.96,280.37 L382.33,280.01 L384.69,279.60 L387.06,279.16 L389.42,278.68 L391.78,278.16 L394.15,277.60 L396.51,277.01 L398.88,276.38 L401.24,275.71 L403.61,275.01 L405.97,274.27 L408.34,273.49 L410.70,272.68" fill="none" stroke="#f00" stroke-width="1.95"/>
<line x1="452.7" y1="263.1" x2="452.7" y2="276.8" stroke="#00f" stroke-width="1.4"/>
<circle cx="452.7" cy="270.0" r="3.95" fill="#00f"/>
<line x1="474.1" y1="263.8" x2="474.1" y2="277.3" stroke="#00f" stroke-width="1.4"/>
<circle cx="474.1" cy="270.3" r="3.95" fill="#00f"/>
<line x1="495.1" y1="270.3" x2="495.1" y2="284.1" stroke="#00f" stroke-width="1.4"/>
<circle cx="495.1" cy="277.3" r="3.95" fill="#00f"/>
<line x1="520.6" y1="277.9" x2="520.6" y2="292.9" stroke="#00f" stroke-width="1.4"/>
<circle cx="520.6" cy="285.3" r="3.95" fill="#00f"/>
<line x1="563.4" y1="279.9" x2="563.4" y2="306.5" stroke="#00f" stroke-width="1.4"/>
<circle cx="563.4" cy="293.6" r="3.95" fill="#00f"/>
<path d="M428.10,254.60 L430.52,255.38 L432.93,256.17 L435.35,256.98 L437.77,257.80 L440.18,258.63 L442.60,259.47 L445.02,260.31 L447.44,261.15 L449.85,261.99 L452.27,262.82 L454.69,263.65 L457.10,264.47 L459.52,265.28 L461.94,266.07 L464.35,266.85 L466.77,267.61 L469.19,268.35 L471.61,269.07 L474.02,269.76 L476.44,270.44 L478.86,271.08 L481.27,271.70 L483.69,272.29 L486.11,272.85 L488.52,273.38 L490.94,273.88 L493.36,274.35 L495.77,274.78 L498.19,275.18 L500.61,275.55 L503.03,275.88 L505.44,276.18 L507.86,276.44 L510.28,276.67 L512.69,276.86 L515.11,277.01 L517.53,277.14 L519.94,277.22 L522.36,277.28 L524.78,277.29 L527.19,277.28 L529.61,277.23 L532.03,277.16 L534.45,277.05 L536.86,276.91 L539.28,276.74 L541.70,276.55 L544.11,276.33 L546.53,276.08 L548.95,275.82 L551.36,275.53 L553.78,275.22 L556.20,274.89 L558.62,274.55 L561.03,274.20 L563.45,273.83 L565.87,273.45 L568.28,273.07 L570.70,272.68 L570.70,296.81 L568.28,296.84 L565.87,296.86 L563.45,296.86 L561.03,296.86 L558.62,296.84 L556.20,296.81 L553.78,296.76 L551.36,296.70 L548.95,296.63 L546.53,296.53 L544.11,296.42 L541.70,296.30 L539.28,296.15 L536.86,295.98 L534.45,295.80 L532.03,295.59 L529.61,295.36 L527.19,295.11 L524.78,294.83 L522.36,294.53 L519.94,294.21 L517.53,293.85 L515.11,293.47 L512.69,293.07 L510.28,292.63 L507.86,292.17 L505.44,291.67 L503.03,291.15 L500.61,290.59 L498.19,290.00 L495.77,289.37 L493.36,288.71 L490.94,288.02 L488.52,287.29 L486.11,286.52 L483.69,285.71 L481.27,284.86 L478.86,283.98 L476.44,283.05 L474.02,282.08 L471.61,281.07 L469.19,280.01 L466.77,278.91 L464.35,277.77 L461.94,276.58 L459.52,275.34 L457.10,274.05 L454.69,272.71 L452.27,271.33 L449.85,269.89 L447.44,268.40 L445.02,266.86 L442.60,265.26 L440.18,263.61 L437.77,261.90 L435.35,260.13 L432.93,258.31 L430.52,256.43 L428.10,254.49 Z" fill="none" stroke="#000" stroke-width="1.2" stroke-linejoin="miter"/>
<path d="M428.10,254.75 L430.52,256.03 L432.93,257.29 L435.35,258.54 L437.77,259.77 L440.18,260.98 L442.60,262.16 L445.02,263.33 L447.44,264.47 L449.85,265.59 L452.27,266.69 L454.69,267.77 L457.10,268.81 L459.52,269.84 L461.94,270.83 L464.35,271.80 L466.77,272.75 L469.19,273.66 L471.61,274.55 L474.02,275.40 L476.44,276.23 L478.86,277.03 L481.27,277.80 L483.69,278.54 L486.11,279.24 L488.52,279.92 L490.94,280.57 L493.36,281.18 L495.77,281.76 L498.19,282.31 L500.61,282.83 L503.03,283.32 L505.44,283.78 L507.86,284.20 L510.28,284.59 L512.69,284.95 L515.11,285.28 L517.53,285.57 L519.94,285.84 L522.36,286.07 L524.78,286.27 L527.19,286.44 L529.61,286.58 L532.03,286.69 L534.45,286.77 L536.86,286.82 L539.28,286.84 L541.70,286.83 L544.11,286.79 L546.53,286.72 L548.95,286.63 L551.36,286.50 L553.78,286.36 L556.20,286.18 L558.62,285.98 L561.03,285.76 L563.45,285.51 L565.87,285.24 L568.28,284.94 L570.70,284.63" fill="none" stroke="#f00" stroke-width="1.95"/>
<line x1="109.60" y1="96.15" x2="114.00" y2="96.15" stroke="#000" stroke-width="0.85"/>
<line x1="109.60" y1="116.00" x2="114.00" y2="116.00" stroke="#000" stroke-width="0.85"/>
<line x1="109.60" y1="135.85" x2="114.00" y2="135.85" stroke="#000" stroke-width="0.85"/>
<line x1="109.60" y1="155.70" x2="114.00" y2="155.70" stroke="#000" stroke-width="0.85"/>
<line x1="109.60" y1="175.55" x2="114.00" y2="175.55" stroke="#000" stroke-width="0.85"/>
<line x1="109.60" y1="195.40" x2="114.00" y2="195.40" stroke="#000" stroke-width="0.85"/>
<line x1="109.60" y1="215.25" x2="114.00" y2="215.25" stroke="#000" stroke-width="0.85"/>
<line x1="109.60" y1="235.80" x2="114.00" y2="235.80" stroke="#000" stroke-width="0.85"/>
<line x1="109.60" y1="254.69" x2="114.00" y2="254.69" stroke="#000" stroke-width="0.85"/>
<line x1="109.60" y1="273.59" x2="114.00" y2="273.59" stroke="#000" stroke-width="0.85"/>
<line x1="109.60" y1="292.48" x2="114.00" y2="292.48" stroke="#000" stroke-width="0.85"/>
<line x1="109.60" y1="311.38" x2="114.00" y2="311.38" stroke="#000" stroke-width="0.85"/>
<line x1="109.60" y1="330.27" x2="114.00" y2="330.27" stroke="#000" stroke-width="0.85"/>
<line x1="109.60" y1="349.16" x2="114.00" y2="349.16" stroke="#000" stroke-width="0.85"/>
<line x1="109.60" y1="368.06" x2="114.00" y2="368.06" stroke="#000" stroke-width="0.85"/>
<line x1="254.05" y1="96.15" x2="258.75" y2="96.15" stroke="#000" stroke-width="0.85"/>
<line x1="254.05" y1="116.00" x2="258.75" y2="116.00" stroke="#000" stroke-width="0.85"/>
<line x1="254.05" y1="135.85" x2="258.75" y2="135.85" stroke="#000" stroke-width="0.85"/>
<line x1="254.05" y1="155.70" x2="258.75" y2="155.70" stroke="#000" stroke-width="0.85"/>
<line x1="254.05" y1="175.55" x2="258.75" y2="175.55" stroke="#000" stroke-width="0.85"/>
<line x1="254.05" y1="195.40" x2="258.75" y2="195.40" stroke="#000" stroke-width="0.85"/>
<line x1="254.05" y1="215.25" x2="258.75" y2="215.25" stroke="#000" stroke-width="0.85"/>
<line x1="254.05" y1="235.80" x2="258.75" y2="235.80" stroke="#000" stroke-width="0.85"/>
<line x1="254.05" y1="254.69" x2="258.75" y2="254.69" stroke="#000" stroke-width="0.85"/>
<line x1="254.05" y1="273.59" x2="258.75" y2="273.59" stroke="#000" stroke-width="0.85"/>
<line x1="254.05" y1="292.48" x2="258.75" y2="292.48" stroke="#000" stroke-width="0.85"/>
<line x1="254.05" y1="311.38" x2="258.75" y2="311.38" stroke="#000" stroke-width="0.85"/>
<line x1="254.05" y1="330.27" x2="258.75" y2="330.27" stroke="#000" stroke-width="0.85"/>
<line x1="254.05" y1="349.16" x2="258.75" y2="349.16" stroke="#000" stroke-width="0.85"/>
<line x1="254.05" y1="368.06" x2="258.75" y2="368.06" stroke="#000" stroke-width="0.85"/>
<line x1="428.15" y1="96.15" x2="433.15" y2="96.15" stroke="#000" stroke-width="0.85"/>
<line x1="428.15" y1="116.00" x2="433.15" y2="116.00" stroke="#000" stroke-width="0.85"/>
<line x1="428.15" y1="135.85" x2="433.15" y2="135.85" stroke="#000" stroke-width="0.85"/>
<line x1="428.15" y1="155.70" x2="433.15" y2="155.70" stroke="#000" stroke-width="0.85"/>
<line x1="428.15" y1="175.55" x2="433.15" y2="175.55" stroke="#000" stroke-width="0.85"/>
<line x1="428.15" y1="195.40" x2="433.15" y2="195.40" stroke="#000" stroke-width="0.85"/>
<line x1="428.15" y1="215.25" x2="433.15" y2="215.25" stroke="#000" stroke-width="0.85"/>
<line x1="428.15" y1="235.80" x2="433.15" y2="235.80" stroke="#000" stroke-width="0.85"/>
<line x1="428.15" y1="254.69" x2="433.15" y2="254.69" stroke="#000" stroke-width="0.85"/>
<line x1="428.15" y1="273.59" x2="433.15" y2="273.59" stroke="#000" stroke-width="0.85"/>
<line x1="428.15" y1="292.48" x2="433.15" y2="292.48" stroke="#000" stroke-width="0.85"/>
<line x1="428.15" y1="311.38" x2="433.15" y2="311.38" stroke="#000" stroke-width="0.85"/>
<line x1="428.15" y1="330.27" x2="433.15" y2="330.27" stroke="#000" stroke-width="0.85"/>
<line x1="428.15" y1="349.16" x2="433.15" y2="349.16" stroke="#000" stroke-width="0.85"/>
<line x1="428.15" y1="368.06" x2="433.15" y2="368.06" stroke="#000" stroke-width="0.85"/>
<line x1="133.68" y1="235.10" x2="133.68" y2="231.00" stroke="#000" stroke-width="0.85"/>
<line x1="133.68" y1="386.95" x2="133.68" y2="382.85" stroke="#000" stroke-width="0.85"/>
<line x1="157.75" y1="235.10" x2="157.75" y2="231.00" stroke="#000" stroke-width="0.85"/>
<line x1="157.75" y1="386.95" x2="157.75" y2="382.85" stroke="#000" stroke-width="0.85"/>
<line x1="181.82" y1="235.10" x2="181.82" y2="231.00" stroke="#000" stroke-width="0.85"/>
<line x1="181.82" y1="386.95" x2="181.82" y2="382.85" stroke="#000" stroke-width="0.85"/>
<line x1="205.90" y1="235.10" x2="205.90" y2="231.00" stroke="#000" stroke-width="0.85"/>
<line x1="205.90" y1="386.95" x2="205.90" y2="382.85" stroke="#000" stroke-width="0.85"/>
<line x1="229.98" y1="235.10" x2="229.98" y2="231.00" stroke="#000" stroke-width="0.85"/>
<line x1="229.98" y1="386.95" x2="229.98" y2="382.85" stroke="#000" stroke-width="0.85"/>
<line x1="288.87" y1="235.10" x2="288.87" y2="230.30" stroke="#000" stroke-width="0.85"/>
<line x1="288.87" y1="386.95" x2="288.87" y2="382.15" stroke="#000" stroke-width="0.85"/>
<line x1="323.69" y1="235.10" x2="323.69" y2="230.30" stroke="#000" stroke-width="0.85"/>
<line x1="323.69" y1="386.95" x2="323.69" y2="382.15" stroke="#000" stroke-width="0.85"/>
<line x1="358.51" y1="235.10" x2="358.51" y2="230.30" stroke="#000" stroke-width="0.85"/>
<line x1="358.51" y1="386.95" x2="358.51" y2="382.15" stroke="#000" stroke-width="0.85"/>
<line x1="393.33" y1="235.10" x2="393.33" y2="230.30" stroke="#000" stroke-width="0.85"/>
<line x1="393.33" y1="386.95" x2="393.33" y2="382.15" stroke="#000" stroke-width="0.85"/>
<line x1="456.65" y1="235.10" x2="456.65" y2="230.00" stroke="#000" stroke-width="0.85"/>
<line x1="456.65" y1="386.95" x2="456.65" y2="381.85" stroke="#000" stroke-width="0.85"/>
<line x1="485.15" y1="235.10" x2="485.15" y2="230.00" stroke="#000" stroke-width="0.85"/>
<line x1="485.15" y1="386.95" x2="485.15" y2="381.85" stroke="#000" stroke-width="0.85"/>
<line x1="513.65" y1="235.10" x2="513.65" y2="230.00" stroke="#000" stroke-width="0.85"/>
<line x1="513.65" y1="386.95" x2="513.65" y2="381.85" stroke="#000" stroke-width="0.85"/>
<line x1="542.15" y1="235.10" x2="542.15" y2="230.00" stroke="#000" stroke-width="0.85"/>
<line x1="542.15" y1="386.95" x2="542.15" y2="381.85" stroke="#000" stroke-width="0.85"/>
<line x1="570.65" y1="235.10" x2="570.65" y2="230.00" stroke="#000" stroke-width="0.85"/>
<line x1="570.65" y1="386.95" x2="570.65" y2="381.85" stroke="#000" stroke-width="0.85"/>
<line x1="109.60" y1="76.30" x2="584.90" y2="76.30" stroke="#000" stroke-width="1.4"/>
<line x1="109.60" y1="386.95" x2="585.70" y2="386.95" stroke="#000" stroke-width="1.5"/>
<line x1="109.60" y1="235.10" x2="584.90" y2="235.10" stroke="#000" stroke-width="1.5"/>
<line x1="109.60" y1="75.60" x2="109.60" y2="387.70" stroke="#000" stroke-width="1.4"/>
<line x1="584.90" y1="75.60" x2="584.90" y2="387.70" stroke="#000" stroke-width="1.6"/>
<line x1="254.05" y1="76.30" x2="254.05" y2="386.95" stroke="#000" stroke-width="2.1"/>
<line x1="428.15" y1="76.30" x2="428.15" y2="386.95" stroke="#000" stroke-width="1.9"/>
<text class="tk" x="107.7" y="78.65" text-anchor="end">0.12</text>
<text class="tk" x="107.7" y="99.50" text-anchor="end">0.1</text>
<text class="tk" x="107.7" y="119.35" text-anchor="end">0.08</text>
<text class="tk" x="107.7" y="139.20" text-anchor="end">0.06</text>
<text class="tk" x="107.7" y="159.05" text-anchor="end">0.04</text>
<text class="tk" x="107.7" y="178.90" text-anchor="end">0.02</text>
<text class="tk" x="107.7" y="198.75" text-anchor="end">0</text>
<text class="tk" x="107.7" y="218.60" text-anchor="end">-0.02</text>
<text class="tk" x="107.7" y="239.20" text-anchor="end">0.02</text>
<text class="tk" x="107.7" y="258.09" text-anchor="end">0</text>
<text class="tk" x="107.7" y="276.99" text-anchor="end">-0.02</text>
<text class="tk" x="107.7" y="295.88" text-anchor="end">-0.04</text>
<text class="tk" x="107.7" y="314.77" text-anchor="end">-0.06</text>
<text class="tk" x="107.7" y="333.67" text-anchor="end">-0.08</text>
<text class="tk" x="107.7" y="352.56" text-anchor="end">-0.1</text>
<text class="tk" x="107.7" y="371.46" text-anchor="end">-0.12</text>
<text class="tk" x="107.7" y="390.35" text-anchor="end">-0.14</text>
<text x="109.20" y="404.1" font-size="12.0" text-anchor="middle">0</text>
<text x="132.88" y="404.1" font-size="12.0" text-anchor="middle">0.1</text>
<text x="156.95" y="404.1" font-size="12.0" text-anchor="middle">0.2</text>
<text x="181.02" y="404.1" font-size="12.0" text-anchor="middle">0.3</text>
<text x="205.10" y="404.1" font-size="12.0" text-anchor="middle">0.4</text>
<text x="229.18" y="404.1" font-size="12.0" text-anchor="middle">0.5</text>
<text x="253.25" y="404.1" font-size="12.0" text-anchor="middle">0.6</text>
<text x="288.07" y="404.1" font-size="11.8" text-anchor="middle">0.2</text>
<text x="322.89" y="404.1" font-size="11.8" text-anchor="middle">0.4</text>
<text x="357.71" y="404.1" font-size="11.8" text-anchor="middle">0.6</text>
<text x="392.53" y="404.1" font-size="11.8" text-anchor="middle">0.8</text>
<text x="428.15" y="404.1" font-size="11.8" text-anchor="middle">1</text>
<text x="455.85" y="404.1" font-size="11.7" text-anchor="middle">0.2</text>
<text x="484.35" y="404.1" font-size="11.7" text-anchor="middle">0.4</text>
<text x="512.85" y="404.1" font-size="11.7" text-anchor="middle">0.6</text>
<text x="541.35" y="404.1" font-size="11.7" text-anchor="middle">0.8</text>
<text x="570.25" y="404.1" font-size="11.7" text-anchor="middle">1</text>
<text x="229.7" y="430.6" font-size="17.5" text-anchor="middle">x</text>
<text x="403.1" y="430.6" font-size="17.5" text-anchor="middle">z</text>
<text x="515" y="431" font-size="18">P<tspan font-size="12.1" dy="5">T</tspan><tspan dy="-5"> (GeV)</tspan></text>
<text x="288.8" y="115.4" font-size="15.7" style="fill:#f00">HERMES</text>
<text x="288.8" y="134.4" font-size="15.7" style="fill:#f00">preliminary</text>
<text x="456.3" y="115.7" font-size="15.75" style="fill:#f00">2002-2005</text>
<g transform="translate(0,0)" stroke="#f00" fill="none" stroke-linecap="butt"><path d="M134.9,104.9 L145.7,104.9" stroke-width="2.2"/><path d="M133.2,107.2 Q133.9,105.1 135.6,104.5" stroke-width="1.2"/><path d="M138.4,105.4 C138.1,109.2 137.4,112.2 135.6,114.6" stroke-width="1.7"/><circle cx="135.0" cy="114.6" r="1.35" fill="#f00" stroke="none"/><path d="M141.9,105.4 L141.7,112.6 C141.6,116.0 144.3,116.4 145.6,112.6" stroke-width="1.7"/></g>
<path d="M145.9,104.8 H153.6 M149.7,100.9 V108.8" stroke="#f00" stroke-width="1.8" fill="none"/>
<g transform="translate(0,252.1)" stroke="#00f" fill="none" stroke-linecap="butt"><path d="M134.9,104.9 L145.7,104.9" stroke-width="2.2"/><path d="M133.2,107.2 Q133.9,105.1 135.6,104.5" stroke-width="1.2"/><path d="M138.4,105.4 C138.1,109.2 137.4,112.2 135.6,114.6" stroke-width="1.7"/><circle cx="135.0" cy="114.6" r="1.35" fill="#00f" stroke="none"/><path d="M141.9,105.4 L141.7,112.6 C141.6,116.0 144.3,116.4 145.6,112.6" stroke-width="1.7"/></g>
<rect x="145.7" y="355.5" width="4.6" height="1.5" fill="#00f"/>
<g transform="translate(68.5,213.4) rotate(-90)">
<g transform="translate(-1.0,-0.7) scale(0.885,1)">
<text x="0" y="0" font-size="31.5">A</text>
</g>
<g transform="translate(20.5,0) scale(0.935,1)">
<text x="0" y="8.8" font-size="21.3">UT</text>
</g>
<g transform="translate(20.9,0) scale(0.984,1)">
<text x="0" y="-19.6" font-size="21.3">sin</text>
</g>
<text x="56" y="-19.6" font-size="20">(</text>
<ellipse cx="67.0" cy="-25.2" rx="3.8" ry="4.1" fill="none" stroke="#000" stroke-width="1.5"/><line x1="67.0" y1="-16.1" x2="67.0" y2="-34.4" stroke="#000" stroke-width="1.3"/>
<text x="71.6" y="-13.8" font-size="13.8">S</text>
<text x="80.2" y="-19.4" font-size="19">+</text>
<ellipse cx="102.3" cy="-25.2" rx="3.8" ry="4.1" fill="none" stroke="#000" stroke-width="1.5"/><line x1="102.3" y1="-16.1" x2="102.3" y2="-34.4" stroke="#000" stroke-width="1.3"/>
<text x="107.8" y="-14.2" font-size="13.8">h</text>
<text x="114.5" y="-19.6" font-size="20">)</text>
</g>
<g transform="translate(68.5,370.6) rotate(-90)">
<g transform="translate(-1.0,-0.7) scale(0.885,1)">
<text x="0" y="0" font-size="31.5">A</text>
</g>
<g transform="translate(20.5,0) scale(0.935,1)">
<text x="0" y="8.8" font-size="21.3">UT</text>
</g>
<g transform="translate(20.9,0) scale(0.984,1)">
<text x="0" y="-19.6" font-size="21.3">sin</text>
</g>
<text x="56" y="-19.6" font-size="20">(</text>
<ellipse cx="67.0" cy="-25.2" rx="3.8" ry="4.1" fill="none" stroke="#000" stroke-width="1.5"/><line x1="67.0" y1="-16.1" x2="67.0" y2="-34.4" stroke="#000" stroke-width="1.3"/>
<text x="71.6" y="-13.8" font-size="13.8">S</text>
<text x="80.2" y="-19.4" font-size="19">+</text>
<ellipse cx="102.3" cy="-25.2" rx="3.8" ry="4.1" fill="none" stroke="#000" stroke-width="1.5"/><line x1="102.3" y1="-16.1" x2="102.3" y2="-34.4" stroke="#000" stroke-width="1.3"/>
<text x="107.8" y="-14.2" font-size="13.8">h</text>
<text x="114.5" y="-19.6" font-size="20">)</text>
</g>
</svg></body></html>
